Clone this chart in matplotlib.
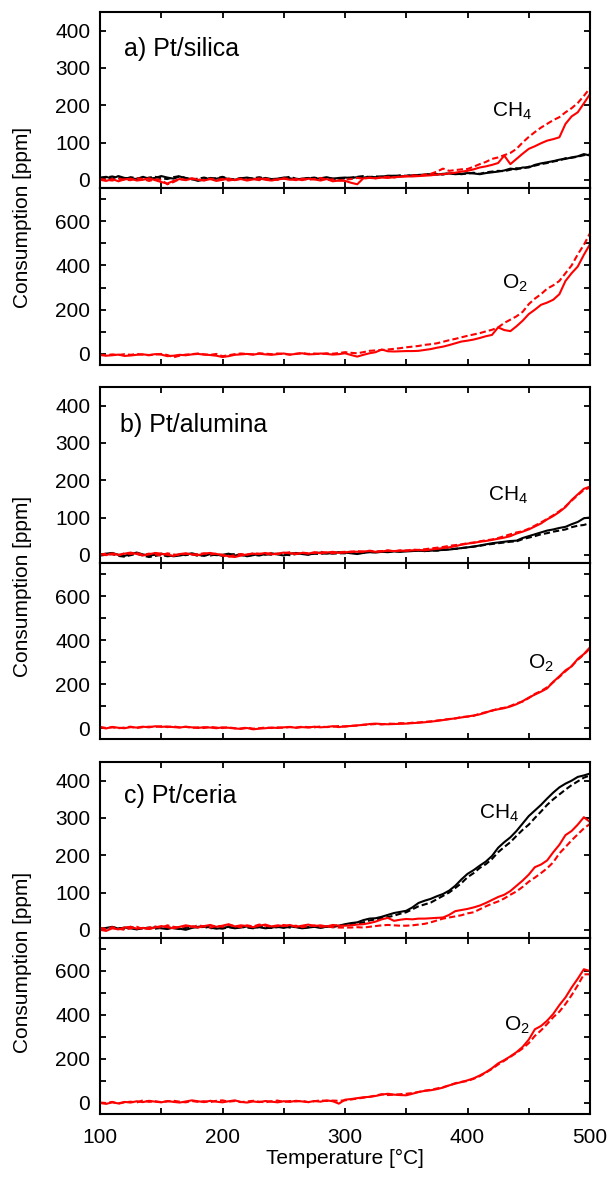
import numpy as np
import matplotlib
matplotlib.use("Agg")
import matplotlib.pyplot as plt
from matplotlib.ticker import MultipleLocator, FuncFormatter

plt.rcParams['font.family'] = ['Liberation Sans', 'DejaVu Sans']
plt.rcParams['mathtext.fontset'] = 'custom'
plt.rcParams['mathtext.rm'] = 'Liberation Sans'
plt.rcParams['mathtext.it'] = 'Liberation Sans:italic'

# ---------------- data ----------------
temperature = np.arange(100, 505, 5)   # °C, 81 points

panel_titles = ["a) Pt/silica", "b) Pt/alumina", "c) Pt/ceria"]
xticks_labels = [100, 200, 300, 400, 500]

a_ch4_red_solid = [
    0, -3, 2, -4, 1, 3, -2, 0, 4, -1,
    -6, -10, -3, 2, -1, 3, 0, -2, 2, -3,
    0, 3, -1, 2, -2, 1, 4, 0, -2, 1,
    3, 0, 2, -1, 3, 1, -2, 2, -4, -2,
    -3, -8, -12, 4, 5, 4, 6, 5, 7, 8,
    9, 9, 10, 11, 12, 14, 15, 17, 19, 22,
    24, 28, 33, 36, 40, 45, 65, 42, 56, 70,
    83, 90, 98, 105, 109, 114, 150, 170, 181, 205,
    230]
a_ch4_red_dash = [
    2, 0, -2, 3, 0, -1, 4, 2, -3, 1,
    0, -12, -6, 2, 0, 4, 1, -1, 3, 0,
    2, -2, 1, 3, 0, 2, -1, 3, 1, 0,
    4, 2, -1, 3, 0, 2, 5, 0, 1, -2,
    0, 2, 5, 3, 6, 4, 7, 8, 6, 9,
    10, 12, 11, 14, 16, 22, 30, 24, 26, 28,
    29, 35, 42, 48, 56, 60, 66, 72, 83, 100,
    115, 128, 140, 150, 160, 168, 181, 192, 206, 225,
    246]
a_ch4_black_solid = [
    6, 8, 3, 10, 5, 4, 2, 8, 3, 5,
    10, 6, 3, 9, 4, 2, -3, 1, 5, 3,
    6, 2, 0, 4, 6, 3, 1, 5, 2, 3,
    6, 4, 1, 3, 5, 2, 4, 7, 3, 5,
    6, 5, 7, 6, 8, 7, 9, 10, 11, 9,
    11, 12, 13, 14, 15, 14, 16, 17, 15, 16,
    18, 17, 15, 18, 20, 22, 25, 30, 28, 33,
    33, 40, 44, 47, 50, 54, 56, 60, 63, 69,
    65]
a_ch4_black_dash = [
    3, 6, 9, 5, 2, 7, 4, 1, 6, 8,
    4, 2, 7, 10, 5, 1, 3, 6, 2, 4,
    8, 3, 1, 5, 2, 4, 7, 3, 0, 2,
    5, 8, 3, 1, 4, 6, 2, 5, 3, 2,
    4, 6, 8, 10, 7, 9, 8, 11, 10, 12,
    10, 13, 12, 13, 16, 15, 14, 18, 17, 15,
    17, 19, 16, 20, 22, 24, 23, 27, 31, 30,
    35, 38, 42, 45, 49, 52, 58, 59, 62, 66,
    68]
a_o2_red_solid = [
    -5, -8, -6, -3, -9, -7, -4, -2, -5, -1,
    -3, -10, -8, -4, -6, -2, 0, -3, -5, -8,
    -14, -10, -4, -2, 0, -3, 1, -2, -4, -1,
    2, -3, 0, 3, -2, -1, 2, 0, -3, -1,
    3, -5, -12, -4, 3, 8, 20, 12, 11, 12,
    13, 13, 14, 18, 22, 28, 33, 40, 48, 56,
    60, 65, 72, 80, 86, 120, 108, 103, 125, 150,
    180, 200, 222, 232, 245, 270, 330, 365, 395, 448,
    496]
a_o2_red_dash = [
    -3, -6, -2, -5, -1, -4, 0, -3, -6, -2,
    0, -5, -15, -8, -3, -1, 2, -2, -4, 0,
    -10, -6, -1, 2, 0, -2, 3, 1, -1, 2,
    0, -3, 1, 4, 0, 2, -1, 3, 1, 4,
    8, 5, 3, 8, 14, 16, 18, 20, 23, 26,
    30, 33, 36, 41, 44, 48, 55, 62, 68, 75,
    82, 88, 94, 102, 109, 120, 140, 155, 170, 190,
    225, 250, 270, 295, 310, 330, 365, 400, 450, 493,
    546]

b_ch4_red_solid = [
    2, -1, 4, 0, 3, 6, 2, -2, 1, 5,
    3, 0, -3, 2, 4, 1, -1, 3, 5, 2,
    0, -4, -6, -2, 1, 3, 2, 5, 1, 3,
    6, 4, 2, 5, 3, 7, 4, 6, 8, 5,
    6, 9, 8, 9, 10, 8, 9, 11, 10, 11,
    11, 12, 13, 12, 14, 16, 18, 20, 23, 27,
    30, 32, 35, 37, 40, 43, 46, 50, 57, 62,
    68, 76, 84, 95, 104, 115, 128, 147, 162, 177,
    183]
b_ch4_red_dash = [
    0, 3, 1, -2, 4, 2, 5, 0, 3, 1,
    -2, 4, 1, -1, 3, 0, 2, 4, 1, 3,
    -2, -5, -1, 2, 0, 4, 3, 1, 5, 2,
    4, 7, 3, 6, 4, 5, 8, 6, 4, 7,
    8, 7, 10, 8, 11, 9, 10, 12, 9, 12,
    11, 14, 13, 15, 17, 19, 21, 24, 26, 28,
    31, 33, 36, 39, 41, 45, 50, 55, 60, 63,
    70, 78, 87, 96, 106, 117, 130, 145, 160, 174,
    180]
b_ch4_black_solid = [
    1, 3, 5, 0, -3, 2, 6, 1, -2, 0,
    3, -1, -4, -2, 1, 4, 0, -3, 2, -1,
    0, 3, -2, 1, -4, -1, 2, 0, 4, 1,
    -2, 3, 5, 2, 0, 4, 6, 3, 5, 7,
    6, 4, 2, 5, 7, 6, 8, 7, 9, 8,
    9, 10, 11, 10, 11, 12, 13, 14, 16, 18,
    20, 22, 25, 28, 31, 33, 35, 37, 38, 45,
    50, 55, 60, 65, 68, 72, 75, 82, 88, 98,
    100]
b_ch4_black_dash = [
    -2, 0, 2, -3, -5, -1, 3, -2, -6, -3,
    0, -4, -2, 1, -1, 2, -3, 0, -2, 1,
    -3, 0, 2, -1, -3, 0, -2, 2, 0, 3,
    1, -1, 2, 4, 1, 3, 2, 5, 3, 4,
    4, 7, 6, 5, 8, 7, 9, 8, 10, 9,
    11, 10, 12, 10, 12, 11, 13, 15, 16, 18,
    20, 22, 24, 27, 29, 31, 33, 35, 36, 42,
    46, 50, 55, 58, 62, 65, 68, 74, 78, 80,
    85]
b_o2_red_solid = [
    3, -2, 5, 1, -1, 4, 2, 6, 3, 8,
    5, 7, 4, 2, 6, 3, 0, 4, 2, -1,
    3, 1, -2, -4, 0, -6, -3, -1, 2, 0,
    3, 5, 1, 4, 2, 6, 3, 5, 8, 4,
    8, 9, 12, 14, 18, 20, 18, 17, 18, 19,
    20, 22, 24, 26, 29, 32, 36, 40, 44, 48,
    52, 57, 62, 70, 80, 85, 90, 98, 108, 122,
    138, 152, 165, 180, 210, 235, 262, 280, 314, 336,
    367]
b_o2_red_dash = [
    5, 0, 3, -1, 2, 6, 0, 4, 6, 5,
    8, 4, 7, 3, 5, 1, 3, 0, 5, 2,
    0, 3, -1, -2, 2, -3, -1, 2, 0, 3,
    1, 4, 2, 6, 4, 3, 7, 4, 6, 9,
    6, 10, 11, 15, 16, 18, 16, 20, 19, 22,
    21, 24, 25, 28, 30, 34, 37, 41, 43, 50,
    52, 55, 65, 72, 78, 88, 92, 100, 112, 120,
    136, 155, 168, 185, 208, 232, 258, 282, 310, 334,
    362]

c_ch4_black_solid = [
    2, 5, 8, 3, 6, 4, 1, 5, 3, 7,
    4, 2, 6, 3, 0, 5, 8, 10, 6, 3,
    5, 8, 4, 6, 9, 5, 7, 4, 6, 8,
    5, 9, 7, 4, 6, 8, 5, 9, 7, 11,
    15, 18, 20, 26, 30, 31, 35, 40, 45, 48,
    51, 60, 72, 78, 83, 90, 96, 105, 118, 135,
    150, 160, 172, 183, 198, 220, 235, 248, 265, 285,
    305, 320, 335, 352, 368, 382, 392, 400, 410, 414,
    419]
c_ch4_black_dash = [
    4, 2, 6, 5, 3, 8, 2, 4, 6, 3,
    5, 7, 4, 2, 5, 9, 6, 8, 4, 6,
    3, 7, 5, 8, 6, 4, 8, 6, 5, 7,
    9, 6, 8, 5, 7, 9, 6, 8, 10, 12,
    13, 14, 16, 20, 25, 28, 31, 34, 38, 43,
    47, 55, 63, 68, 73, 82, 91, 100, 112, 125,
    141, 152, 166, 176, 190, 208, 222, 235, 252, 268,
    282, 300, 317, 335, 350, 363, 376, 388, 398, 408,
    414]
c_ch4_red_solid = [
    0, -3, 4, 1, 6, 8, 3, 5, 2, 6,
    10, 7, 4, 8, 12, 9, 6, 10, 13, 8,
    11, 15, 9, 12, 10, 7, 11, 14, 9, 12,
    10, 13, 8, 11, 14, 10, 12, 9, 13, 11,
    11, 12, 14, 15, 18, 22, 28, 32, 24, 27,
    29, 28, 30, 30, 31, 32, 33, 40, 50, 53,
    56, 60, 65, 72, 80, 88, 94, 104, 118, 132,
    148, 168, 175, 186, 208, 228, 254, 265, 282, 302,
    289]
c_ch4_red_dash = [
    5, 2, 7, 3, 0, 4, 8, 2, 6, 9,
    5, 12, 8, 6, 10, 7, 12, 9, 6, 11,
    8, 13, 10, 7, 12, 9, 14, 11, 8, 10,
    13, 9, 11, 7, 10, 12, 8, 9, 7, 6,
    6, 6, 7, 6, 8, 10, 12, 13, 12, 11,
    11, 12, 14, 16, 20, 25, 30, 33, 36, 39,
    44, 47, 55, 63, 70, 76, 84, 94, 103, 115,
    129, 140, 152, 165, 181, 205, 222, 240, 256, 272,
    284]
c_o2_red_solid = [
    0, -4, 3, -2, 5, 2, 8, 4, 10, 6,
    3, 9, 5, 2, 7, 12, 8, 4, 10, 6,
    3, 8, 12, 5, 2, 7, 4, 9, 6, 3,
    8, 5, 10, 7, 4, 9, 6, 12, 8, -3,
    15, 18, 22, 26, 28, 32, 38, 42, 38, 36,
    35, 42, 50, 55, 58, 63, 70, 80, 88, 95,
    103, 112, 125, 140, 158, 180, 195, 212, 231, 255,
    288, 335, 350, 374, 405, 445, 480, 525, 565, 608,
    600]
c_o2_red_dash = [
    2, 0, 5, -3, 3, 6, 2, 12, 5, 8,
    4, 7, 10, 6, 3, 9, 5, 8, 4, 10,
    12, 6, 9, 4, 7, 10, 6, 3, 8, 11,
    5, 9, 7, 10, 4, 8, 12, 9, 11, 10,
    12, 16, 20, 24, 28, 34, 40, 36, 38, 40,
    42, 45, 50, 56, 60, 66, 72, 80, 90, 96,
    100, 110, 122, 138, 155, 175, 192, 210, 228, 248,
    272, 305, 330, 359, 390, 415, 450, 490, 535, 585,
    585]

panels = [
    dict(title=panel_titles[0],
         ch4=[(a_ch4_black_solid, 'k', '-'), (a_ch4_black_dash, 'k', '--'),
              (a_ch4_red_solid, 'red', '-'), (a_ch4_red_dash, 'red', '--')],
         o2=[(a_o2_red_solid, 'red', '-'), (a_o2_red_dash, 'red', '--')],
         ch4_lab=(420, 169), o2_lab=(428, 297), title_pos=(120, 350)),
    dict(title=panel_titles[1],
         ch4=[(b_ch4_black_solid, 'k', '-'), (b_ch4_black_dash, 'k', '--'),
              (b_ch4_red_solid, 'red', '-'), (b_ch4_red_dash, 'red', '--')],
         o2=[(b_o2_red_solid, 'red', '-'), (b_o2_red_dash, 'red', '--')],
         ch4_lab=(417, 146), o2_lab=(449, 271), title_pos=(116, 348)),
    dict(title=panel_titles[2],
         ch4=[(c_ch4_black_solid, 'k', '-'), (c_ch4_black_dash, 'k', '--'),
              (c_ch4_red_solid, 'red', '-'), (c_ch4_red_dash, 'red', '--')],
         o2=[(c_o2_red_solid, 'red', '-'), (c_o2_red_dash, 'red', '--')],
         ch4_lab=(409, 299), o2_lab=(430, 329), title_pos=(120, 358)),
]

# ---------------- layout ----------------
W, H = 608, 1177
fig = plt.figure(figsize=(W / 100, H / 100), dpi=100)

def px_axes(top, bottom):
    return fig.add_axes([100 / W, 1 - bottom / H, 490 / W, (bottom - top) / H])

group_px = [(12, 188, 365), (387, 563, 739), (762, 938, 1114)]
ylabel_y = [217, 586, 962]
FS = 15

def style(ax, show_x):
    ax.set_xlim(100, 500)
    ax.xaxis.set_major_locator(MultipleLocator(50))
    ax.xaxis.set_major_formatter(FuncFormatter(
        lambda v, p: f"{int(v)}" if int(round(v)) in xticks_labels else ""))
    ax.tick_params(axis='both', which='both', direction='in', length=4, width=1.3,
                   top=True, right=True, labelsize=FS)
    ax.tick_params(axis='y', pad=7)
    ax.tick_params(axis='x', pad=10, labelbottom=show_x)
    for s in ax.spines.values():
        s.set_linewidth(1.5)

for gi, (panel, (top, mid, bot)) in enumerate(zip(panels, group_px)):
    ax1 = px_axes(top, mid)
    ax2 = px_axes(mid, bot)
    for vals, c, ls in panel['ch4']:
        ax1.plot(temperature, vals, color=c, ls=ls, lw=1.5,
                 dashes=(3, 1.5) if ls == '--' else (None, None))
    for vals, c, ls in panel['o2']:
        ax2.plot(temperature, vals, color=c, ls=ls, lw=1.5,
                 dashes=(3, 1.5) if ls == '--' else (None, None))
    ax1.set_ylim(-22, 450)
    ax1.yaxis.set_major_locator(MultipleLocator(100))
    ax2.set_ylim(-50, 750)
    ax2.yaxis.set_major_locator(MultipleLocator(100))
    ax2.yaxis.set_major_formatter(FuncFormatter(
        lambda v, p: f"{int(round(v))}" if int(round(v)) % 200 == 0 else ""))
    style(ax1, False)
    style(ax2, gi == 2)
    ax1.text(*panel['title_pos'], panel['title'], fontsize=18, va='center', ha='left')
    ax1.text(*panel['ch4_lab'], r'CH$_\mathregular{4}$', fontsize=15, ha='left', va='baseline')
    ax2.text(*panel['o2_lab'], r'O$_\mathregular{2}$', fontsize=15, ha='left', va='baseline')
    fig.text(23 / W, 1 - ylabel_y[gi] / H, "Consumption [ppm]", rotation=90,
             ha='center', va='center', fontsize=FS)

fig.text(345 / W, 1 - 1158 / H, "Temperature [°C]", ha='center', va='center', fontsize=FS)

fig.savefig("out.png", dpi=100)
